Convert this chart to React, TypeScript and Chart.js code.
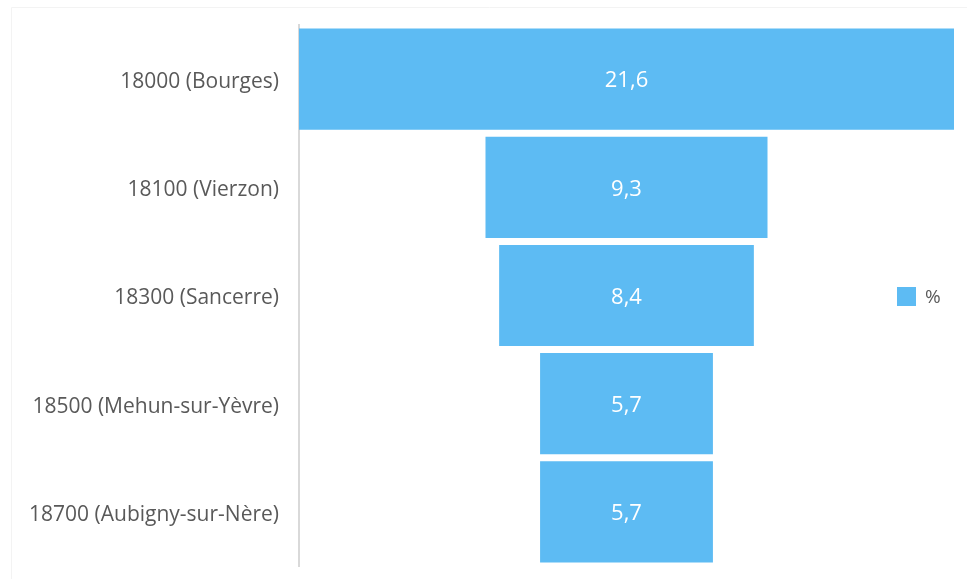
import React, { useEffect, useRef } from "react";
import { Chart, registerables } from "chart.js";

Chart.register(...registerables);

const categories = [
  "18000 (Bourges)",
  "18100 (Vierzon)",
  "18300 (Sancerre)",
  "18500 (Mehun-sur-Yèvre)",
  "18700 (Aubigny-sur-Nère)",
];
const values = [21.6, 9.3, 8.4, 5.7, 5.7];
const seriesName = "%";

const BAR_COLOR = "#5dbbf3";
const TEXT_COLOR = "#595959";
const FONT = "'Open Sans', sans-serif";

export default function App() {
  const ref = useRef<HTMLCanvasElement | null>(null);

  useEffect(() => {
    const canvas = ref.current;
    if (!canvas) return;
    const maxV = Math.max(...values);
    const center = maxV / 2;
    const floating = values.map((v) => [center - v / 2, center + v / 2]);

    const decor = {
      id: "decor",
      beforeDraw(chart: any) {
        const ctx = chart.ctx;
        ctx.save();
        ctx.strokeStyle = "#f3f3f3";
        ctx.lineWidth = 1;
        ctx.beginPath();
        ctx.moveTo(11.5, 579);
        ctx.lineTo(11.5, 7.5);
        ctx.lineTo(967, 7.5);
        ctx.stroke();
        ctx.restore();
      },
      afterDatasetsDraw(chart: any) {
        const ctx = chart.ctx;
        const meta = chart.getDatasetMeta(0);
        ctx.save();
        ctx.fillStyle = "#ffffff";
        ctx.font = `22px ${FONT}`;
        ctx.textAlign = "center";
        ctx.textBaseline = "middle";
        meta.data.forEach((bar: any, i: number) => {
          const x = (bar.x + bar.base) / 2;
          ctx.fillText(values[i].toFixed(1).replace(".", ","), x, bar.y + 2);
        });
        // legend
        ctx.fillStyle = BAR_COLOR;
        ctx.fillRect(897, 287, 19, 19);
        ctx.fillStyle = TEXT_COLOR;
        ctx.textAlign = "left";
        ctx.font = `19px ${FONT}`;
        ctx.fillText(seriesName, 925, 298);
        ctx.restore();
      },
    };

    const chart = new Chart(canvas, {
      type: "bar",
      data: {
        labels: categories,
        datasets: [
          {
            label: seriesName,
            data: floating as any,
            backgroundColor: BAR_COLOR,
            borderWidth: 0,
            borderSkipped: false,
            categoryPercentage: 1,
            barPercentage: 0.935,
          },
        ],
      },
      options: {
        indexAxis: "y",
        responsive: false,
        animation: false,
        layout: { padding: { left: 0, right: 13, top: 25, bottom: 13 } },
        plugins: {
          legend: { display: false },
          tooltip: { enabled: false },
        },
        scales: {
          x: {
            display: false,
            min: 0,
            max: maxV,
          },
          y: {
            afterFit: (scale: any) => {
              scale.width = 299;
              scale.paddingTop = 0;
              scale.paddingBottom = 0;
            },
            grid: { display: false, drawTicks: false },
            border: { display: true, color: "#d9d9d9", width: 2 },
            ticks: {
              color: TEXT_COLOR,
              font: { family: FONT, size: 21 },
              padding: 20,
              labelOffset: 3,
            },
          },
        },
      },
      plugins: [decor],
    });
    return () => chart.destroy();
  }, []);

  return (
    <div style={{ position: "fixed", left: 0, top: 0, width: 967, height: 579, background: "#fff" }}>
      <canvas ref={ref} width={967} height={579} style={{ width: 967, height: 579 }} />
    </div>
  );
}
